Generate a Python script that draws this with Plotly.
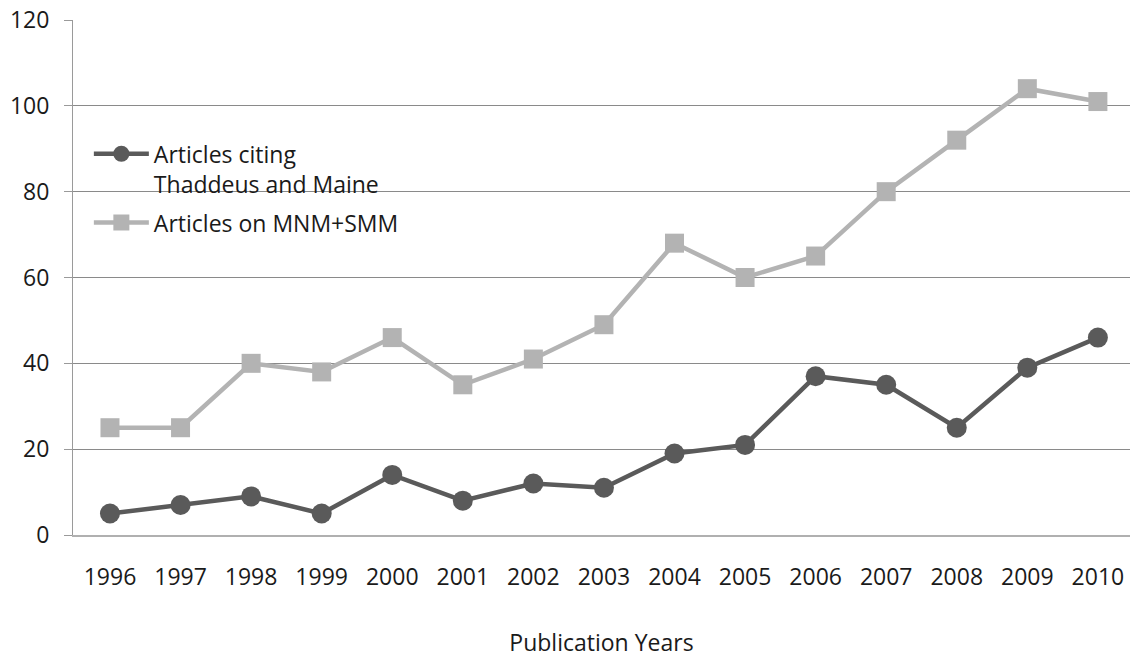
import plotly.graph_objects as go

# Publication counts per year
years = [1996, 1997, 1998, 1999, 2000, 2001, 2002, 2003, 2004, 2005,
         2006, 2007, 2008, 2009, 2010]
citing_thaddeus_maine = [5, 7, 9, 5, 14, 8, 12, 11, 19, 21, 37, 35, 25, 39, 46]
mnm_smm_articles = [25, 25, 40, 38, 46, 35, 41, 49, 68, 60, 65, 80, 92, 104, 101]

y_ticks = [0, 20, 40, 60, 80, 100, 120]

FONT = "Open Sans"
SIZE = 23
TEXT = "#1a1a1a"
DARK = "#5a5a5a"
LIGHT = "#b3b3b3"

fig = go.Figure()

fig.add_trace(go.Scatter(
    x=years, y=citing_thaddeus_maine,
    mode="lines+markers",
    name="Articles citing<br>Thaddeus and Maine",
    legendgroup="citing",
    line=dict(color=DARK, width=4.5),
    marker=dict(symbol="circle", size=20, color=DARK),
))

fig.add_trace(go.Scatter(
    x=years, y=mnm_smm_articles,
    mode="lines+markers",
    name="Articles on MNM+SMM",
    legendgroup="mnm",
    line=dict(color=LIGHT, width=4.5),
    marker=dict(symbol="square", size=19, color=LIGHT),
))

fig.update_layout(
    width=1130, height=658,
    margin=dict(l=73, r=0, t=20, b=123),
    paper_bgcolor="white",
    plot_bgcolor="white",
    font=dict(family=FONT, size=SIZE, color=TEXT),
    legend=dict(
        x=0.015, y=0.782, xanchor="left", yanchor="top",
        bgcolor="rgba(0,0,0,0)",
        font=dict(family=FONT, size=SIZE, color=TEXT),
        valign="top",
        itemwidth=55,
        traceorder="grouped",
        tracegroupgap=6,
    ),
    xaxis=dict(
        range=[1995.476, 2010.455],
        tickmode="array", tickvals=years,
        ticktext=[str(y) for y in years],
        showgrid=False, zeroline=False,
        showline=True, linecolor="#b0b0b0", linewidth=2,
        ticks="", ticklabelstandoff=20,
        title=dict(text="Publication Years", standoff=49,
                   font=dict(family=FONT, size=SIZE, color=TEXT)),
    ),
    yaxis=dict(
        range=[0, 120],
        tickmode="array", tickvals=y_ticks,
        showgrid=True, gridcolor="#8a8a8a", gridwidth=1,
        zeroline=False,
        showline=True, linecolor="#9a9a9a", linewidth=1,
        ticks="outside", ticklen=8, tickcolor="#9a9a9a",
        ticklabelstandoff=10,
    ),
)

fig.write_html("out.html")
